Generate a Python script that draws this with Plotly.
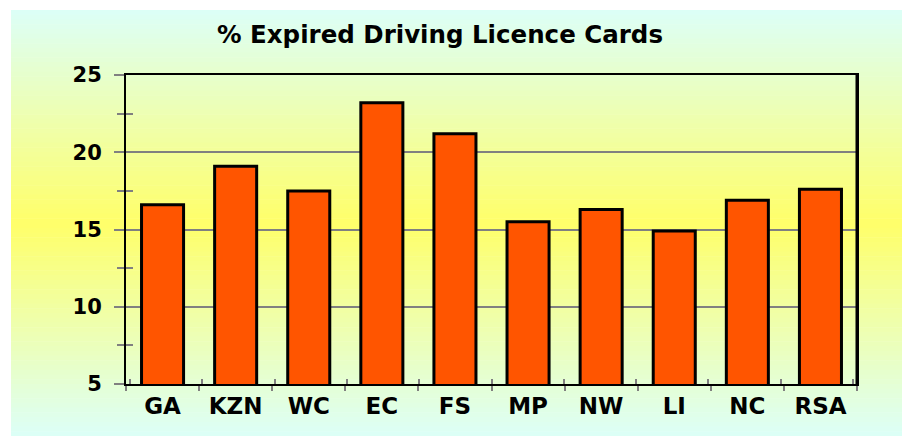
import plotly.graph_objects as go

categories = ["GA", "KZN", "WC", "EC", "FS", "MP", "NW", "LI", "NC", "RSA"]
expired_pct = [16.6, 19.1, 17.5, 23.2, 21.2, 15.5, 16.3, 14.9, 16.9, 17.6]
y_ticks = [5, 10, 15, 20, 25]
title_text = "% Expired Driving Licence Cards"

W, H = 902, 436
ML, MR, MT, MB = 126, 45, 75, 52
PW, PH = W - ML - MR, H - MT - MB

def px_to_paper_x(px):
    return (px - ML) / PW

def px_to_paper_y(py):
    return (H - MB - py) / PH

# background gradient (cyan -> yellow -> cyan)
c_edge = (220, 255, 248)
c_mid = (255, 255, 105)
shapes = []
top_px, bot_px = 10, 436
n = 90
for i in range(n):
    y0 = top_px + (bot_px - top_px) * i / n
    y1 = top_px + (bot_px - top_px) * (i + 1) / n
    t = (i + 0.5) / n
    f = 1 - abs(2 * t - 1)
    c = tuple(round(c_edge[k] + (c_mid[k] - c_edge[k]) * f) for k in range(3))
    if i == n - 1:
        y1 = bot_px + 10
    shapes.append(dict(type="rect", xref="paper", yref="paper",
                       x0=px_to_paper_x(11), x1=px_to_paper_x(W + 2),
                       y0=px_to_paper_y(y1 + 0.5), y1=px_to_paper_y(y0),
                       fillcolor="rgb(%d,%d,%d)" % c, line=dict(width=0),
                       layer="below"))
# thicker right border
shapes.append(dict(type="line", xref="paper", yref="paper", x0=1, x1=1,
                   y0=0, y1=1, line=dict(color="black", width=3), layer="above"))

fig = go.Figure()
fig.add_trace(go.Bar(x=categories, y=expired_pct,
                     marker=dict(color="#FF5500", line=dict(color="black", width=3)),
                     width=0.575, hoverinfo="x+y"))
fig.add_trace(go.Scatter(x=categories, y=expired_pct, xaxis="x2", yaxis="y2",
                         mode="markers", marker=dict(opacity=0), hoverinfo="skip",
                         showlegend=False))

font_family = "DejaVu Sans"
tick_gray = "#808080"

fig.update_layout(
    width=W, height=H,
    margin=dict(l=ML, r=MR, t=MT, b=MB),
    paper_bgcolor="white",
    plot_bgcolor="rgba(0,0,0,0)",
    showlegend=False,
    shapes=shapes,
    title=dict(text="<b>" + title_text + "</b>", xref="paper",
               x=px_to_paper_x(440), xanchor="center",
               yref="container", y=1 - 34 / H, yanchor="middle",
               font=dict(family=font_family, size=24.5, color="black")),
    xaxis=dict(type="category", categoryorder="array", categoryarray=categories,
               showline=True, linecolor="black", linewidth=2, mirror=True,
               ticks="outside", tickson="boundaries", ticklen=5, tickwidth=2,
               tickcolor=tick_gray, showgrid=False,
               tickfont=dict(family=font_family, size=23, color="black", weight="bold"),
               ticklabelstandoff=0),
    yaxis=dict(range=[5, 25], tickvals=y_ticks, showline=True, linecolor="black",
               linewidth=2, mirror=True, ticks="outside", ticklen=10, tickwidth=2,
               tickcolor=tick_gray, showgrid=True, gridcolor=tick_gray, gridwidth=2,
               zeroline=False,
               minor=dict(dtick=2.5, tick0=5, ticks="outside", ticklen=7,
                          tickwidth=2, tickcolor=tick_gray, showgrid=False),
               tickfont=dict(family=font_family, size=21, color="black", weight="bold"),
               ticklabelstandoff=8),
    xaxis2=dict(type="category", categoryorder="array", categoryarray=categories,
                overlaying="x", anchor="y2", showline=False, showgrid=False,
                ticks="inside", tickson="boundaries", ticklen=5, tickwidth=2,
                tickcolor=tick_gray, showticklabels=False),
    yaxis2=dict(range=[5, 25], tickvals=y_ticks, overlaying="y", anchor="x2",
                side="left", showline=False, showgrid=False, zeroline=False,
                ticks="inside", ticklen=10, tickwidth=2, tickcolor=tick_gray,
                showticklabels=False,
                minor=dict(dtick=2.5, tick0=5, ticks="inside", ticklen=7,
                           tickwidth=2, tickcolor=tick_gray, showgrid=False)),
)

fig.write_html("out.html", config={"displayModeBar": False},
               post_script="document.body.style.margin='0';document.body.style.padding='0';")
